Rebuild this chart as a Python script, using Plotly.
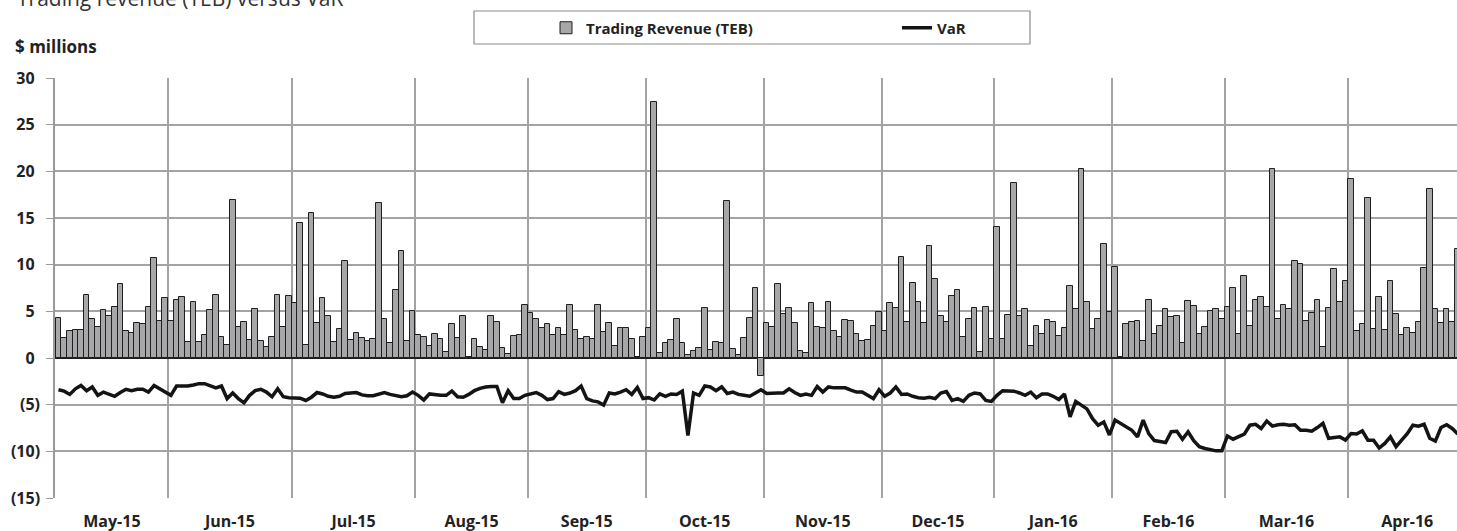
import numpy as np
import plotly.graph_objects as go

months = ["May-15", "Jun-15", "Jul-15", "Aug-15", "Sep-15", "Oct-15",
          "Nov-15", "Dec-15", "Jan-16", "Feb-16", "Mar-16", "Apr-16"]
days_per_month = [20, 22, 22, 20, 21, 21, 21, 20, 21, 20, 22, 21]

# Daily trading revenue (TEB), $ millions
trading_revenue = [
    # May-15
    4.3, 2.1, 2.9, 3.0, 3.0, 6.8, 4.2, 3.3, 5.1, 4.5, 5.5, 7.9, 2.9, 2.7, 3.8, 3.6, 5.5, 10.7, 4.0, 6.4,
    # Jun-15
    4.0, 6.2, 6.5, 1.7, 6.0, 1.7, 2.5, 5.1, 6.8, 2.2, 1.4, 16.9, 3.3, 3.9, 1.9, 5.3, 1.8, 1.2, 2.3, 6.7, 3.3, 6.6,
    # Jul-15
    5.9, 14.5, 1.4, 15.5, 3.8, 6.4, 4.5, 1.7, 3.1, 10.4, 1.9, 2.7, 2.1, 1.8, 2.0, 16.6, 4.2, 1.6, 7.3, 11.5, 1.8, 5.0,
    # Aug-15
    2.5, 2.2, 1.3, 2.6, 2.0, 0.6, 3.6, 2.1, 4.5, 0.1, 2.0, 1.2, 0.9, 4.5, 3.9, 1.1, 0.4, 2.4, 2.5, 5.7,
    # Sep-15
    4.8, 4.2, 3.2, 3.6, 2.5, 3.2, 2.5, 5.7, 3.0, 2.0, 2.3, 2.0, 5.7, 2.8, 3.7, 1.3, 3.2, 3.2, 2.0, 0.1, 2.3,
    # Oct-15
    3.2, 27.4, 0.5, 1.6, 1.9, 4.2, 1.6, 0.3, 0.7, 1.1, 5.4, 0.9, 1.7, 1.6, 16.8, 1.0, 0.3, 2.1, 4.3, 7.5, -1.9,
    # Nov-15
    3.8, 3.3, 7.9, 4.7, 5.4, 3.8, 0.8, 0.5, 5.9, 3.3, 3.2, 6.0, 2.9, 2.2, 4.1, 4.0, 2.6, 1.8, 1.9, 3.4, 4.9,
    # Dec-15
    2.9, 5.9, 5.4, 10.8, 3.9, 8.0, 6.0, 3.7, 12.0, 8.5, 4.5, 3.9, 6.6, 7.3, 2.2, 4.2, 5.4, 0.6, 5.5, 2.0,
    # Jan-16
    14.0, 2.0, 4.6, 18.8, 4.5, 5.2, 1.3, 3.4, 2.6, 4.1, 3.9, 2.4, 3.2, 7.7, 5.3, 20.2, 6.0, 3.1, 4.2, 12.2, 4.9,
    # Feb-16
    9.8, 0.1, 3.6, 3.9, 4.0, 1.8, 6.2, 2.6, 3.4, 5.3, 4.4, 4.5, 1.6, 6.1, 5.6, 2.6, 3.3, 5.0, 5.2, 4.2,
    # Mar-16
    5.5, 7.5, 2.6, 8.8, 3.4, 6.2, 6.5, 5.5, 20.2, 4.2, 5.7, 5.2, 10.4, 10.1, 4.0, 4.8, 6.2, 1.2, 5.4, 9.5, 6.0, 8.3,
    # Apr-16
    19.2, 2.9, 3.6, 17.1, 3.1, 6.5, 3.0, 8.3, 4.7, 2.5, 3.2, 2.7, 3.9, 9.6, 18.1, 5.2, 3.7, 5.3, 3.9, 11.7,
]

# Daily VaR, $ millions
var_values = [
    # May-15
    -3.4, -3.55, -3.9, -3.3, -2.95, -3.5, -3.1, -4.0, -3.65, -3.85, -4.1, -3.7, -3.35, -3.5, -3.35, -3.35, -3.65, -2.95, -3.3, -3.65,
    # Jun-15
    -4.0, -3.0, -3.0, -3.0, -2.9, -2.75, -2.75, -3.0, -3.2, -3.0, -4.35, -3.75, -4.35, -4.8, -4.0, -3.5, -3.35, -3.65, -4.15, -3.3, -4.15, -4.25,
    # Jul-15
    -4.25, -4.3, -4.55, -4.2, -3.7, -3.85, -4.1, -4.2, -4.1, -3.8, -3.75, -3.7, -3.95, -4.05, -4.05, -3.85, -3.7, -3.9, -4.0, -4.15, -4.05, -3.65,
    # Aug-15
    -4.0, -4.5, -3.85, -3.95, -4.0, -4.0, -3.55, -4.15, -4.2, -3.9, -3.5, -3.25, -3.1, -3.05, -3.05, -4.8, -3.5, -4.35, -4.35, -4.0,
    # Sep-15
    -3.8, -3.7, -4.0, -4.45, -4.35, -3.6, -3.9, -3.75, -3.5, -3.0, -4.35, -4.6, -4.7, -5.05, -3.75, -3.85, -3.65, -3.4, -3.9, -3.15, -4.35,
    # Oct-15
    -4.25, -4.5, -3.85, -4.1, -3.85, -3.9, -3.55, -8.3, -3.75, -4.0, -3.0, -3.1, -3.5, -3.1, -3.8, -3.65, -3.9, -4.0, -4.1, -3.75, -3.4,
    # Nov-15
    -3.8, -3.75, -3.75, -3.75, -3.3, -3.7, -4.0, -3.85, -4.0, -3.05, -3.65, -3.1, -3.2, -3.2, -3.2, -3.45, -3.65, -3.65, -4.0, -4.35, -3.4,
    # Dec-15
    -4.1, -3.75, -3.1, -3.9, -3.85, -4.1, -4.25, -4.3, -4.2, -4.35, -3.75, -3.6, -4.55, -4.35, -4.65, -4.0, -3.75, -3.85, -4.55, -4.65,
    # Jan-16
    -4.0, -3.5, -3.5, -3.55, -3.75, -4.0, -3.65, -4.25, -3.85, -3.85, -4.1, -4.45, -3.85, -6.3, -4.65, -5.05, -5.45, -6.5, -7.2, -6.85, -8.25,
    # Feb-16
    -6.65, -7.0, -7.4, -7.75, -8.45, -6.65, -8.1, -8.85, -8.95, -9.05, -7.9, -7.85, -8.7, -7.9, -8.85, -9.5, -9.7, -9.85, -9.95, -9.95,
    # Mar-16
    -8.35, -8.7, -8.45, -8.15, -7.2, -7.1, -7.55, -6.75, -7.3, -7.15, -7.1, -7.2, -7.15, -7.75, -7.75, -7.85, -7.45, -7.0, -8.6, -8.5, -8.45, -8.8,
    # Apr-16
    -8.1, -8.15, -7.8, -8.8, -8.8, -9.65, -9.15, -8.45, -9.5, -8.8, -8.1, -7.2, -7.3, -7.1, -8.6, -8.9, -7.45, -7.15, -7.55, -8.15,
]

y_tick_values = [30, 25, 20, 15, 10, 5, 0, -5, -10, -15]

# ---------------------------------------------------------------------------
x = np.arange(len(trading_revenue))
starts = np.concatenate([[0], np.cumsum(days_per_month)[:-1]])
centers = starts + (np.array(days_per_month) - 1) / 2.0
bounds = starts - 0.5

hidden = "<span style='color:rgba(0,0,0,0)'>)</span>"
y_tick_text = [f"({abs(v)})" if v < 0 else f"{v}{hidden}" for v in y_tick_values]

GRID = "#a3a3a3"
DARK = "#1f1f1f"
FONT = "Open Sans"

fig = go.Figure()
fig.add_trace(go.Bar(
    x=x, y=trading_revenue, name="Trading Revenue (TEB)",
    marker=dict(color="#a7a7a9", line=dict(color=DARK, width=1)),
))
fig.add_trace(go.Scatter(
    x=x, y=var_values, mode="lines", name="VaR",
    line=dict(color="#141414", width=3.5),
))

W, H = 1457, 531
ML, MR, MT, MB = 55, 0, 78, 33
PW, PH = W - ML - MR, H - MT - MB


def px_x(p):
    return (p - ML) / PW


def px_y(p):
    return 1 + (MT - p) / PH


fig.update_layout(
    width=W, height=H, autosize=False,
    margin=dict(l=ML, r=MR, t=MT, b=MB, pad=0),
    paper_bgcolor="white", plot_bgcolor="white",
    bargap=0,
    font=dict(family=FONT, color="#222222"),
    showlegend=True,
    legend=dict(
        orientation="h", x=px_x(546), xanchor="left",
        y=px_y(28), yanchor="middle",
        bgcolor="rgba(0,0,0,0)", borderwidth=0,
        font=dict(family=FONT, size=15, color="#222222", weight="bold"),
        entrywidth=306, entrywidthmode="pixels",
        traceorder="normal",
    ),
    xaxis=dict(
        range=[-0.625, 248.85],
        tickmode="array", tickvals=centers, ticktext=months,
        ticks="", showgrid=False, zeroline=False, showline=False,
        tickfont=dict(family=FONT, size=16, color="#222222", weight="bold"),
        ticklabelstandoff=12,
        minor=dict(tickmode="array", tickvals=bounds, showgrid=True,
                   gridcolor=GRID, gridwidth=1.5, ticks=""),
        fixedrange=True,
    ),
    yaxis=dict(
        range=[-15, 30],
        tickmode="array", tickvals=y_tick_values, ticktext=y_tick_text,
        ticks="outside", ticklen=7, tickcolor="#9a9a9a", tickwidth=1.2,
        ticklabelstandoff=3,
        showgrid=True, gridcolor=GRID, gridwidth=1.5,
        zeroline=True, zerolinecolor=DARK, zerolinewidth=1.5,
        showline=True, linecolor="#9a9a9a", linewidth=1.5,
        tickfont=dict(family=FONT, size=16, color="#222222", weight="bold"),
        fixedrange=True,
    ),
    shapes=[
        dict(type="rect", xref="paper", yref="paper",
             x0=px_x(474), x1=px_x(1030), y0=px_y(44), y1=px_y(11),
             line=dict(color="#8c8c8c", width=1.2), fillcolor="rgba(0,0,0,0)"),
    ],
    annotations=[
        dict(text="Trading revenue (TEB) versus VaR", xref="paper", yref="paper",
             x=px_x(15), y=px_y(-2.5), xanchor="left", yanchor="middle",
             showarrow=False, font=dict(family=FONT, size=21, color="#333333")),
        dict(text="$ millions", xref="paper", yref="paper",
             x=px_x(13), y=px_y(46), xanchor="left", yanchor="middle",
             showarrow=False,
             font=dict(family=FONT, size=17, color="#222222", weight="bold")),
    ],
)

fig.write_html(
    "out.html",
    config={"displayModeBar": False},
    post_script="document.body.style.margin='0';document.body.style.padding='0';"
                "document.body.style.overflow='hidden';",
)
